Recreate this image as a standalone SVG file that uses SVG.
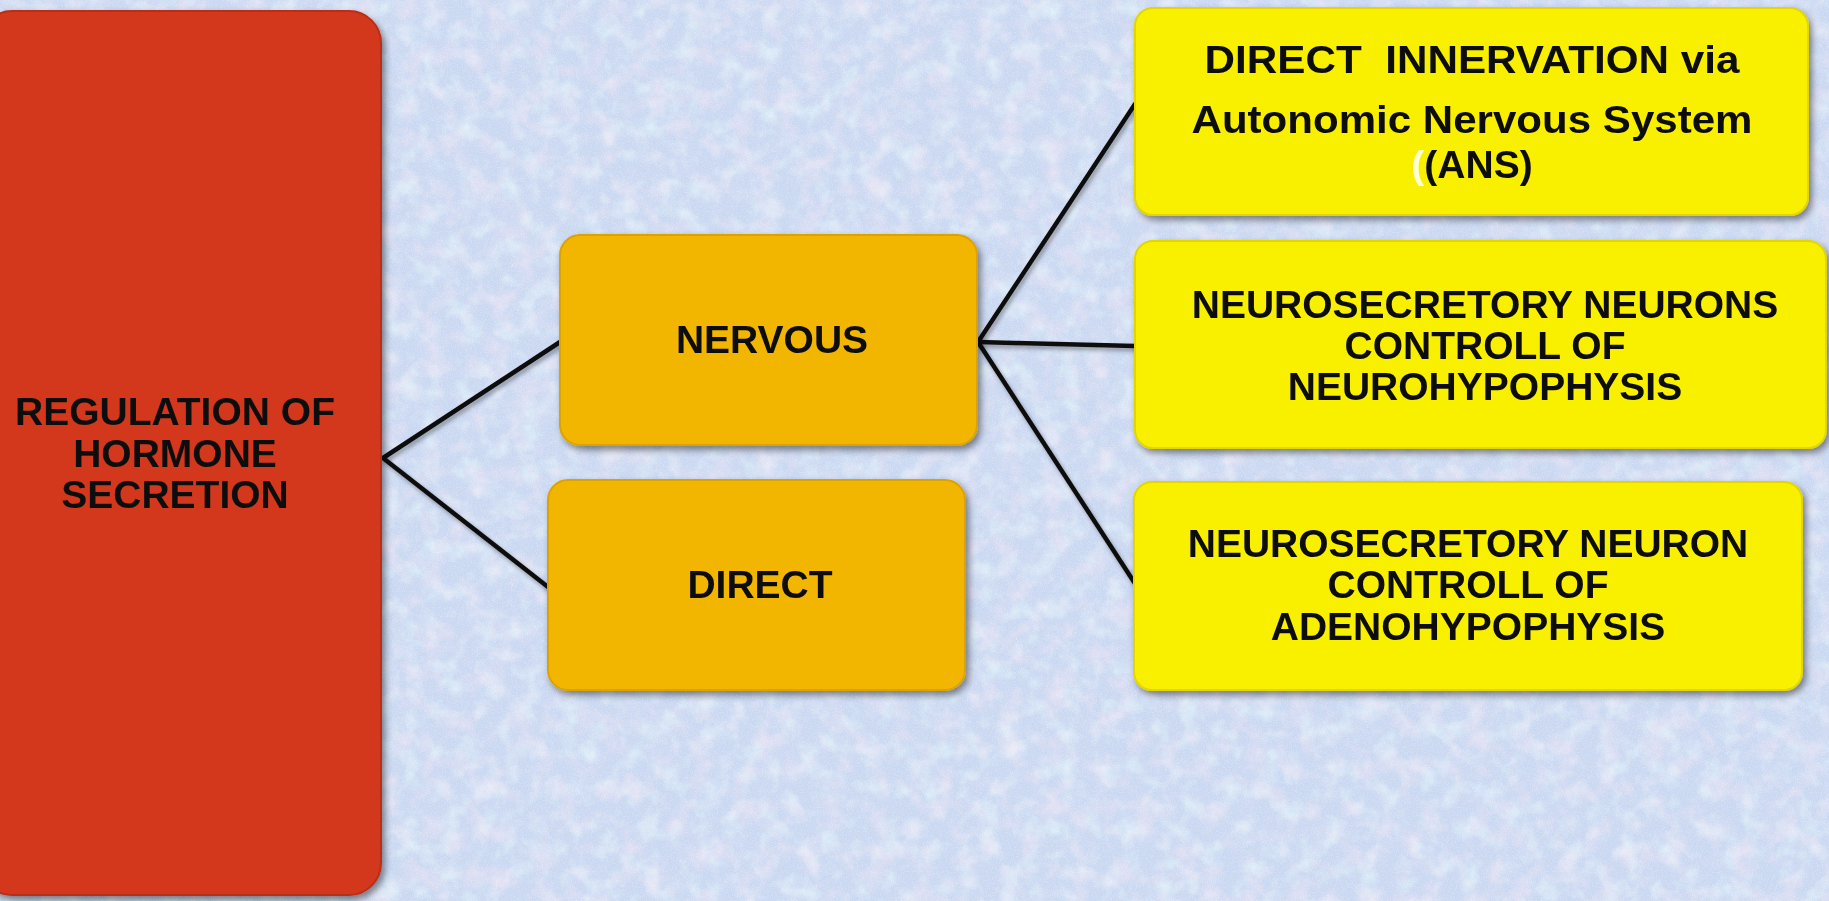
<svg xmlns="http://www.w3.org/2000/svg" width="1829" height="901" viewBox="0 0 1829 901">
<defs>
<filter id="blot" x="0" y="0" width="100%" height="100%">
<feTurbulence type="fractalNoise" baseFrequency="0.045" numOctaves="3" seed="7"/>
<feColorMatrix type="matrix" values="0 0 0 0 0.92  0 0 0 0 0.80  0 0 0 0 0.92  2.0 0 0 0 -0.9"/>
</filter>
<filter id="cyan" x="0" y="0" width="100%" height="100%">
<feTurbulence type="fractalNoise" baseFrequency="0.05" numOctaves="3" seed="21"/>
<feColorMatrix type="matrix" values="0 0 0 0 0.80  0 0 0 0 0.94  0 0 0 0 0.97  0 2.0 0 0 -0.9"/>
</filter>
<filter id="grain" x="0" y="0" width="100%" height="100%">
<feTurbulence type="fractalNoise" baseFrequency="0.8" numOctaves="2" seed="4"/>
<feColorMatrix type="matrix" values="0 0 0 0 1  0 0 0 0 1  0 0 0 0 1  2 0 0 0 -0.85"/>
</filter>
<filter id="shadow" x="-10%" y="-10%" width="125%" height="130%">
<feDropShadow dx="3" dy="4" stdDeviation="3.5" flood-color="#000" flood-opacity="0.45"/>
</filter>
<filter id="lshadow" x="-10%" y="-10%" width="130%" height="130%">
<feDropShadow dx="2" dy="3" stdDeviation="2" flood-color="#000" flood-opacity="0.35"/>
</filter>
</defs>
<style>
.red{fill:#D3371E;stroke:#B82E17;stroke-width:2}
.org{fill:#F2B500;stroke:#DCA300;stroke-width:2}
.yel{fill:#F9F000;stroke:#E2D500;stroke-width:2}
text{font-family:"Liberation Sans",Arial,sans-serif;font-weight:bold;font-size:39px;fill:#111;text-anchor:middle}
.conn{stroke:#111;stroke-width:4.5;fill:none;stroke-linecap:round;stroke-linejoin:round}
</style>
<g id="background">
<rect x="0" y="0" width="1829" height="901" fill="#C9D7F1"/>
<rect x="0" y="0" width="1829" height="901" filter="url(#cyan)" opacity="0.75"/>
<rect x="0" y="0" width="1829" height="901" filter="url(#blot)" opacity="0.65"/>
<rect x="0" y="0" width="1829" height="901" filter="url(#grain)" opacity="0.35"/>
</g>
<g id="connectors" filter="url(#lshadow)">
<polyline class="conn" points="560,342 383,458 548,587"/>
<polyline class="conn" points="1135,104 978,342 1134,582"/>
<line class="conn" x1="978" y1="342" x2="1135" y2="346"/>
</g>
<g id="regulation" filter="url(#shadow)">
<rect class="red" x="-20" y="11" width="401" height="884" rx="32"/>
<text x="175" y="425">REGULATION OF</text>
<text x="175" y="467">HORMONE</text>
<text x="175" y="508">SECRETION</text>
</g>
<g id="nervous" filter="url(#shadow)">
<rect class="org" x="560" y="235" width="417" height="210" rx="20"/>
<text x="772" y="353">NERVOUS</text>
</g>
<g id="direct" filter="url(#shadow)">
<rect class="org" x="548" y="480" width="417" height="210" rx="20"/>
<text x="760" y="598">DIRECT</text>
</g>
<g id="ans" filter="url(#shadow)">
<rect class="yel" x="1135" y="8" width="673" height="207" rx="18"/>
<text x="1472" y="73" xml:space="preserve" textLength="535" lengthAdjust="spacingAndGlyphs">DIRECT  INNERVATION via</text>
<text x="1472" y="133" textLength="561" lengthAdjust="spacingAndGlyphs">Autonomic Nervous System</text>
<text x="1472" y="178"><tspan fill="#FFFFD8">(</tspan>(ANS)</text>
</g>
<g id="neurohypophysis" filter="url(#shadow)">
<rect class="yel" x="1135" y="241" width="691" height="207" rx="18"/>
<text x="1485" y="318">NEUROSECRETORY NEURONS</text>
<text x="1485" y="359">CONTROLL OF</text>
<text x="1485" y="400">NEUROHYPOPHYSIS</text>
</g>
<g id="adenohypophysis" filter="url(#shadow)">
<rect class="yel" x="1134" y="482" width="668" height="208" rx="18"/>
<text x="1468" y="557">NEUROSECRETORY NEURON</text>
<text x="1468" y="598">CONTROLL OF</text>
<text x="1468" y="640">ADENOHYPOPHYSIS</text>
</g>
</svg>
